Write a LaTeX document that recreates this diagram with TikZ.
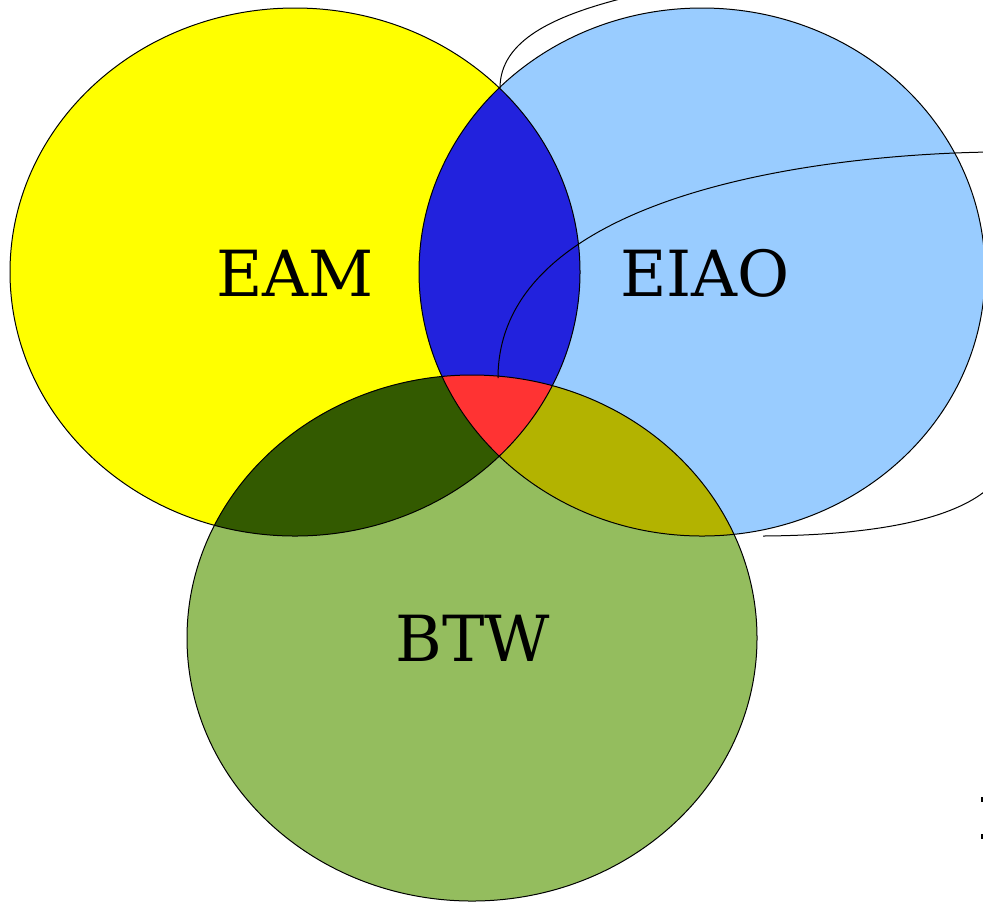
\documentclass[tikz,border=0pt]{standalone}
\usepackage{fontspec}
\setmainfont{DejaVu Serif}
\usetikzlibrary{shapes,positioning}
\definecolor{eamyellow}{rgb}{1,1,0}
\definecolor{eiaoblue}{HTML}{99CCFF}
\definecolor{btwgreen}{HTML}{94BD5E}
\definecolor{lensblue}{HTML}{2222DD}
\definecolor{lensgreen}{HTML}{335A00}
\definecolor{lensolive}{HTML}{B3B300}
\definecolor{lensred}{HTML}{FF3333}
\def\EAM{(295,272) ellipse [x radius=285, y radius=264]}
\def\EIAO{(702,272) ellipse [x radius=283, y radius=264]}
\def\BTW{(472,638) ellipse [x radius=285, y radius=263]}

\begin{document}
\begin{tikzpicture}[% pixel grid of the reference, y pointing down
      x=0.5pt, y=-0.5pt,
      every node/.style={
        align=center,
        font=\fontsize{31.8}{38}\selectfont  % big serif labels
      },
      outline/.style={draw=black,line width=0.5pt},
      stray/.style={draw=black,line width=0.5pt}
    ]
    \useasboundingbox (0,0) rectangle (983,901);
    \clip (0,0) rectangle (983,901);
    % the three sets
    \fill[eamyellow] \EAM;
    \fill[eiaoblue] \EIAO;
    \fill[btwgreen] \BTW;
    % pairwise overlaps
    \begin{scope}
      \clip \EAM;
      \fill[lensblue] \EIAO;
      \fill[lensgreen] \BTW;
    \end{scope}
    \begin{scope}
      \clip \EIAO;
      \fill[lensolive] \BTW;
    \end{scope}
    % all three
    \begin{scope}
      \clip \EAM;
      \clip \EIAO;
      \fill[lensred] \BTW;
    \end{scope}
    \path[outline] \EAM;
    \path[outline] \EIAO;
    \path[outline] \BTW;
    \node (eam) at (295,273) {EAM};
    \node (eiao) at (705,273) {EIAO};
    \node (btw) at (473,638) {BTW};
    % loose curves running off the page
    \coordinate (top) at (500,88);
    \coordinate (topend) at (620,-1);
    \coordinate (mid) at (498,378);
    \coordinate (midend) at (990,152);
    \coordinate (low) at (763,536);
    \coordinate (lowend) at (992,485);
    \draw[stray] (top) .. controls (500,40) and (555,16) .. (topend);
    \draw[stray] (mid) .. controls (498,200) and (800,155) .. (midend);
    \draw[stray] (low) .. controls (900,535) and (965,512) .. (lowend);
    \coordinate (tickA) at (982,797);
    \coordinate (tickB) at (982,834);
    \draw[stray,line width=1pt] (tickA) -- ++(0,5);
    \draw[stray,line width=1pt] (tickB) -- ++(0,5);
  \end{tikzpicture}
\end{document}
